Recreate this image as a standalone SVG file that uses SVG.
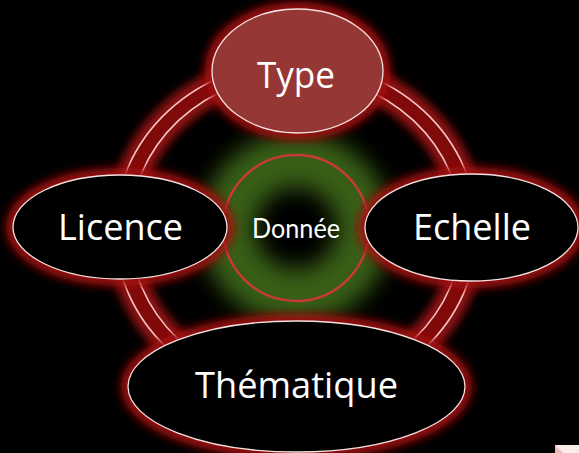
<svg xmlns="http://www.w3.org/2000/svg" width="579" height="453" viewBox="0 0 579 453">
  <defs>
    <filter id="blur5" x="-30%" y="-30%" width="160%" height="160%">
      <feGaussianBlur stdDeviation="5"/>
    </filter>
    <filter id="blur10" x="-50%" y="-50%" width="200%" height="200%">
      <feGaussianBlur stdDeviation="11"/>
    </filter>
    <style>
      .glow { fill: none; stroke: #a01010; stroke-width: 14; filter: url(#blur5); }
      .node { stroke: #f2e2e2; stroke-width: 1.3; }
      .dark { fill: #000000; }
      .lbl { fill: #ffffff; font-family: "Open Sans", "Liberation Sans", sans-serif; font-size: 37px; text-anchor: middle; }
      .line { fill: none; stroke: #f6c6c6; stroke-width: 1.6; }
    </style>
  </defs>
  <rect x="0" y="0" width="579" height="453" fill="#000000"/>

  <!-- central glow -->
  <g id="center">
    <circle cx="296" cy="228" r="68" fill="none" stroke="#385f14" stroke-width="54" filter="url(#blur10)"/>
    <circle cx="296" cy="228" r="73" fill="none" stroke="#c83a3a" stroke-width="2.5"/>
    <text x="296" y="238" fill="#ffffff" font-family="Lato, 'DejaVu Sans', sans-serif" font-size="27" text-anchor="middle" textLength="88" lengthAdjust="spacingAndGlyphs">Donnée</text>
  </g>

  <!-- connectors: the double ring -->
  <g id="connectors">
    <ellipse cx="296" cy="230" rx="173.5" ry="161.5" fill="none" stroke="#a81212" stroke-width="32" filter="url(#blur5)" opacity="0.85"/>
    <ellipse cx="296" cy="230" rx="173.5" ry="161.5" fill="none" stroke="#800a0a" stroke-width="15"/>
    <ellipse class="line" cx="296" cy="230" rx="181" ry="168"/>
    <ellipse class="line" cx="296" cy="230" rx="166" ry="155"/>
  </g>

  <g id="node-type">
    <ellipse class="glow" cx="297.5" cy="71" rx="86" ry="62"/>
    <ellipse class="node" cx="297.5" cy="71" rx="85.5" ry="62" fill="#953735"/>
    <text class="lbl" x="296" y="88" textLength="78" lengthAdjust="spacingAndGlyphs">Type</text>
  </g>

  <g id="node-licence">
    <ellipse class="glow" cx="120" cy="227" rx="107" ry="52"/>
    <ellipse class="node dark" cx="120" cy="227" rx="107" ry="52"/>
    <text class="lbl" x="120.5" y="240" textLength="125" lengthAdjust="spacingAndGlyphs">Licence</text>
  </g>

  <g id="node-echelle">
    <ellipse class="glow" cx="471.5" cy="227.5" rx="106.5" ry="53.5"/>
    <ellipse class="node dark" cx="471.5" cy="227.5" rx="106.5" ry="53.5"/>
    <text class="lbl" x="472" y="240" textLength="118" lengthAdjust="spacingAndGlyphs">Echelle</text>
  </g>

  <g id="node-thematique">
    <ellipse class="glow" cx="296.5" cy="386.5" rx="168.5" ry="65.5"/>
    <ellipse class="node dark" cx="296.5" cy="386.5" rx="168.5" ry="65.5"/>
    <text class="lbl" x="296.5" y="398" textLength="203" lengthAdjust="spacingAndGlyphs">Thématique</text>
  </g>

  <g id="corner">
    <rect x="555" y="445" width="24" height="8" fill="#fbecec"/>
    <polygon points="555,445 563,453 555,453" fill="#f0b8b8"/>
  </g>
</svg>
